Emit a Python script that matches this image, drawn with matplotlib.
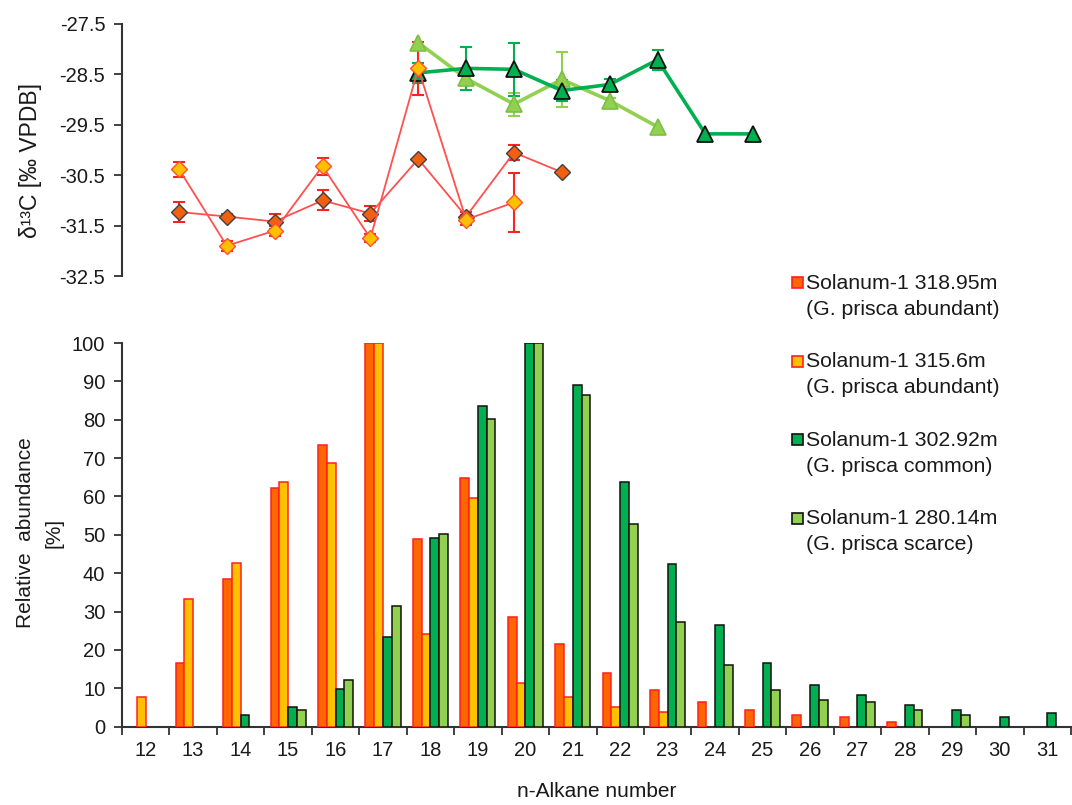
import matplotlib
matplotlib.use("Agg")
import matplotlib.pyplot as plt
from matplotlib.patches import Rectangle
import numpy as np

plt.rcParams['font.family'] = ['Liberation Sans', 'DejaVu Sans']

# ---------------- data ----------------
carbon = list(range(12, 32))
tick_labels = [str(c) for c in carbon]

series_line1 = ["Solanum-1 318.95m", "Solanum-1 315.6m",
                "Solanum-1 302.92m", "Solanum-1 280.14m"]
series_line2 = ["(G. prisca abundant)", "(G. prisca abundant)",
                "(G. prisca common)", "(G. prisca scarce)"]

# relative abundance [%] for n = 12..31
ab_31895 = [0, 16.6, 38.5, 62.2, 73.4, 100, 48.8, 64.9, 28.6, 21.6, 13.9, 9.6, 6.5, 4.4, 3.1, 2.6, 1.3, 0, 0, 0]
ab_3156 = [7.8, 33.3, 42.7, 63.9, 68.6, 100, 24.2, 59.7, 11.3, 7.8, 5.2, 3.9, 0, 0, 0, 0, 0, 0, 0, 0]
ab_30292 = [0, 0, 3.1, 5.2, 9.9, 23.4, 49.2, 83.5, 100, 89.0, 63.9, 42.3, 26.4, 16.5, 10.8, 8.3, 5.7, 4.4, 2.6, 3.5]
ab_28014 = [0, 0, 0, 4.4, 12.1, 31.5, 50.1, 80.3, 100, 86.4, 52.7, 27.3, 16.0, 9.6, 7.0, 6.5, 4.4, 3.1, 0, 0]

# delta13C [permil VPDB]
d13_n_31895 = [13, 14, 15, 16, 17, 18, 19, 20, 21]
d13_31895 = [-31.23, -31.32, -31.42, -31.0, -31.26, -30.18, -31.32, -30.05, -30.44]
d13_err_31895 = [0.2, 0.05, 0.15, 0.2, 0.14, 0.0, 0.08, 0.15, 0.0]

d13_n_3156 = [13, 14, 15, 16, 17, 18, 19, 20]
d13_3156 = [-30.38, -31.90, -31.6, -30.32, -31.75, -28.38, -31.38, -31.04]
d13_err_3156 = [0.15, 0.1, 0.1, 0.17, 0.08, 0.53, 0.1, 0.59]

d13_n_30292 = [18, 19, 20, 21, 22, 23, 24, 25]
d13_30292 = [-28.47, -28.38, -28.40, -28.82, -28.70, -28.21, -29.68, -29.68]
d13_err_30292 = [0.2, 0.43, 0.52, 0.2, 0.1, 0.2, 0.0, 0.0]

d13_n_28014 = [18, 19, 20, 21, 22, 23]
d13_28014 = [-27.87, -28.58, -29.09, -28.60, -29.02, -29.54]
d13_err_28014 = [0.0, 0.1, 0.23, 0.55, 0.05, 0.0]

# ---------------- styling ----------------
c_orange = '#FF6600'
c_yellow = '#FFC000'
c_dgreen = '#00B050'
c_lgreen = '#92D050'
c_red = '#FF2020'
c_text = '#1a1a1a'
c_axis = '#333333'
fs_tick = 14.5
fs_lab = 15
fs_leg = 15.3

fig = plt.figure(figsize=(10.72, 8.05), dpi=100)

# ---------------- bottom: bars ----------------
axb = fig.add_axes([122 / 1072, 1 - 726.7 / 805, 949 / 1072, 383.7 / 805])
x = np.arange(len(carbon))
bw = 0.185
bar_series = [(ab_31895, c_orange, c_red), (ab_3156, c_yellow, c_red),
              (ab_30292, c_dgreen, '#111111'), (ab_28014, c_lgreen, '#111111')]
for i, (vals, fc, ec) in enumerate(bar_series):
    v = np.array(vals, dtype=float)
    mask = v > 0
    axb.bar(x[mask] + (i - 1.5) * bw, v[mask], width=bw, color=fc,
            edgecolor=ec, linewidth=1.1, zorder=3)
axb.set_xlim(-0.5, len(carbon) - 0.5)
axb.set_ylim(0, 100)
axb.set_yticks(np.arange(0, 101, 10))
axb.set_xticks(np.arange(-0.5, len(carbon), 1.0))
axb.set_xticklabels([])
axb.set_xticks(x, minor=True)
axb.set_xticklabels(tick_labels, minor=True)
axb.tick_params(axis='x', which='major', direction='out', length=6, width=1.3, color=c_axis)
axb.tick_params(axis='x', which='minor', length=0, pad=10, labelsize=fs_tick, labelcolor=c_text)
axb.tick_params(axis='y', direction='out', length=6, width=1.3, color=c_axis,
                labelsize=fs_tick, labelcolor=c_text, pad=6)
for s in ['top', 'right']:
    axb.spines[s].set_visible(False)
for s in ['left', 'bottom']:
    axb.spines[s].set_color(c_axis)
    axb.spines[s].set_linewidth(1.5)
axb.set_xlabel('n-Alkane number', fontsize=fs_lab, color=c_text, labelpad=16)

fig.text(0.037, 0.338, 'Relative  abundance\n[%]', rotation=90, fontsize=fs_lab,
         color=c_text, ha='center', va='center', multialignment='center',
         linespacing=1.6)

# ---------------- top: delta13C ----------------
axt = fig.add_axes([122 / 1072, 1 - 276 / 805, 949 / 1072, 252 / 805])
axt.set_xlim(11.81, 31.64)
axt.set_ylim(-32.5, -27.5)
axt.set_yticks(np.arange(-32.5, -27.4, 1.0))
axt.set_yticklabels(['%.1f' % t for t in np.arange(-32.5, -27.4, 1.0)])
axt.tick_params(axis='y', direction='out', length=6, width=1.3, color=c_axis,
                labelsize=fs_tick, labelcolor=c_text, pad=6)
axt.set_xticks([])
for s in ['top', 'right', 'bottom']:
    axt.spines[s].set_visible(False)
axt.spines['left'].set_color(c_axis)
axt.spines['left'].set_linewidth(1.5)
axt.patch.set_alpha(0)

def eb(n, v, e, color):
    n = np.array(n); v = np.array(v); e = np.array(e)
    m = e > 0
    axt.errorbar(n[m], v[m], yerr=e[m], fmt='none', ecolor=color, elinewidth=1.5,
                 capsize=4, capthick=1.5, zorder=2)

eb(d13_n_28014, d13_28014, d13_err_28014, c_lgreen)
axt.plot(d13_n_28014, d13_28014, color=c_lgreen, lw=2.6, marker='^', ms=11,
         mfc=c_lgreen, mec='#7DBF45', mew=1.2, zorder=3)
eb(d13_n_30292, d13_30292, d13_err_30292, c_dgreen)
axt.plot(d13_n_30292, d13_30292, color=c_dgreen, lw=2.6, marker='^', ms=11,
         mfc=c_dgreen, mec='#111111', mew=1.3, zorder=4)
eb(d13_n_31895, d13_31895, d13_err_31895, c_red)
axt.plot(d13_n_31895, d13_31895, color='#FF5050', lw=1.3, marker='D', ms=8,
         mfc='#F06010', mec='#404040', mew=1.0, zorder=5)
eb(d13_n_3156, d13_3156, d13_err_3156, c_red)
axt.plot(d13_n_3156, d13_3156, color='#FF5050', lw=1.3, marker='D', ms=8,
         mfc=c_yellow, mec='#FF5030', mew=1.0, zorder=6)

fig.text(0.028, 0.800, 'δ¹³C [‰ VPDB]', rotation=90, fontsize=16.5, color=c_text,
         ha='center', va='center')

# ---------------- legend (manual) ----------------
leg_colors = [(c_orange, c_red), (c_yellow, c_red), (c_dgreen, '#111111'), (c_lgreen, '#111111')]
y0 = 283
dy = 78.5
for k, (l1, l2, (fc, ec)) in enumerate(zip(series_line1, series_line2, leg_colors)):
    ypx = y0 + k * dy
    sq = 11
    fig.patches.append(Rectangle((792 / 1072, 1 - (ypx + sq / 2) / 805), sq / 1072, sq / 805,
                                 transform=fig.transFigure, facecolor=fc, edgecolor=ec,
                                 linewidth=1.2, figure=fig))
    fig.text(806 / 1072, 1 - ypx / 805, l1, fontsize=fs_leg, color=c_text,
             ha='left', va='center')
    fig.text(806 / 1072, 1 - (ypx + 26) / 805, l2, fontsize=fs_leg, color=c_text,
             ha='left', va='center')

fig.savefig('out.png', dpi=100)
